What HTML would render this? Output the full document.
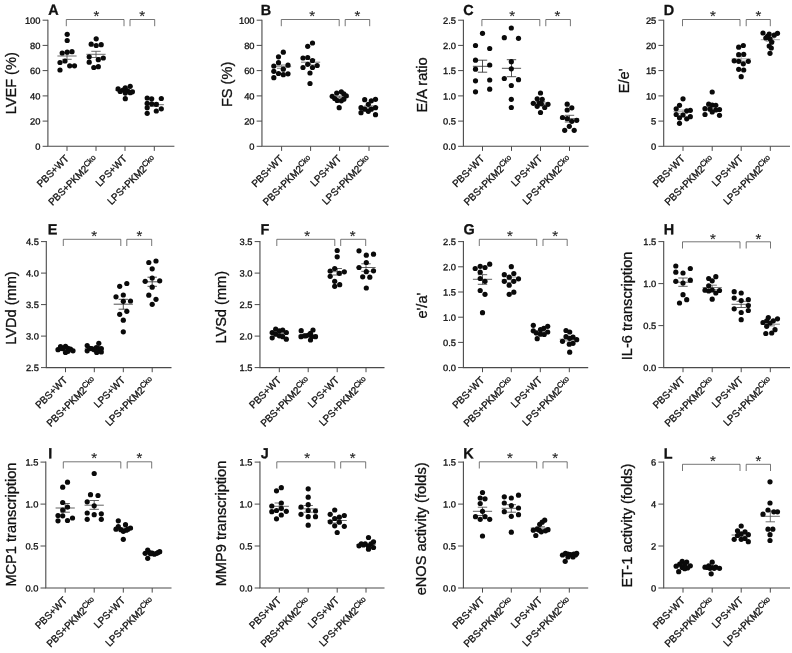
<!DOCTYPE html>
<html><head><meta charset="utf-8"><title>Figure</title>
<style>
html,body{margin:0;padding:0;background:#fff;}
body{width:792px;height:653px;overflow:hidden;font-family:"Liberation Sans",sans-serif;}
svg{display:block;will-change:transform;filter:blur(0.35px);}
text{stroke:#111;stroke-width:0.3px;}
</style></head><body>
<svg width="792" height="653" viewBox="0 0 792 653" font-family="'Liberation Sans', sans-serif">
<rect width="792" height="653" fill="#fff"/>
<g><path d="M47.9 19.7V146.3H174.4" fill="none" stroke="#4a4a4a" stroke-width="1.1"/><path d="M42.6 20.2H47.9M42.6 45.4H47.9M42.6 70.6H47.9M42.6 95.9H47.9M42.6 121.1H47.9M42.6 146.3H47.9M67 146.3V150.9M96 146.3V150.9M125 146.3V150.9M154.3 146.3V150.9" fill="none" stroke="#4a4a4a" stroke-width="1"/><text transform="translate(40.5 23.7) rotate(0.03) scale(1 0.97)" font-size="9.35" text-anchor="end" fill="#111">100</text><text transform="translate(40.5 48.9) rotate(0.03) scale(1 0.97)" font-size="9.35" text-anchor="end" fill="#111">80</text><text transform="translate(40.5 74.1) rotate(0.03) scale(1 0.97)" font-size="9.35" text-anchor="end" fill="#111">60</text><text transform="translate(40.5 99.4) rotate(0.03) scale(1 0.97)" font-size="9.35" text-anchor="end" fill="#111">40</text><text transform="translate(40.5 124.6) rotate(0.03) scale(1 0.97)" font-size="9.35" text-anchor="end" fill="#111">20</text><text transform="translate(40.5 149.8) rotate(0.03) scale(1 0.97)" font-size="9.35" text-anchor="end" fill="#111">0</text><text transform="translate(15.9 83.3) rotate(-90) scale(1.02 1.04)" font-size="14.3" text-anchor="middle" fill="#111">LVEF (%)</text><text transform="translate(48.2 14.85) rotate(0.03) scale(1 1.01)" font-size="14.4" font-weight="bold" fill="#111">A</text><text transform="translate(69.4 159.4) rotate(-45) scale(1 1.04)" font-size="9.7" text-anchor="end" fill="#111">PBS+WT</text><text transform="translate(98.4 160.1) rotate(-45) scale(1 1.04)" font-size="9.7" text-anchor="end" fill="#111">PBS+PKM2<tspan font-size="7.6" dy="-2.9">Cko</tspan></text><text transform="translate(127.4 159.4) rotate(-45) scale(1 1.04)" font-size="9.7" text-anchor="end" fill="#111">LPS+WT</text><text transform="translate(156.7 160.1) rotate(-45) scale(1 1.04)" font-size="9.7" text-anchor="end" fill="#111">LPS+PKM2<tspan font-size="7.6" dy="-2.9">Cko</tspan></text><path d="M66.3 26.2V19.5H124V26.2" fill="none" stroke="#484848" stroke-width="0.75"/><path d="M130 26.2V19.5H154.7V26.2" fill="none" stroke="#484848" stroke-width="0.75"/><text x="96.4" y="21.4" font-size="15" text-anchor="middle" fill="#222" style="stroke:#222;stroke-width:0.12px">*</text><text x="142.1" y="21.4" font-size="15" text-anchor="middle" fill="#222" style="stroke:#222;stroke-width:0.12px">*</text><path d="M57.4 56H76.6M62.3 52.4H71.7M62.3 59.3H71.7M67 52.4V59.3" fill="none" stroke="#555" stroke-width="0.85"/><path d="M86.4 54.3H105.6M91.3 51.3H100.7M91.3 57.5H100.7M96 51.3V57.5" fill="none" stroke="#555" stroke-width="0.85"/><path d="M115.4 90.3H134.6M120.3 89.3H129.7M120.3 91.3H129.7M125 89.3V91.3" fill="none" stroke="#555" stroke-width="0.85"/><path d="M144.7 104.7H163.9M149.6 103H159M149.6 106.4H159M154.3 103V106.4" fill="none" stroke="#555" stroke-width="0.85"/><g fill="#0a0a0a"><circle cx="67.2" cy="34.3" r="2.6"/><circle cx="67.2" cy="40.5" r="2.6"/><circle cx="62.2" cy="53" r="2.6"/><circle cx="67.2" cy="52.2" r="2.6"/><circle cx="72" cy="51.7" r="2.6"/><circle cx="60" cy="62.5" r="2.6"/><circle cx="65" cy="61" r="2.6"/><circle cx="69.7" cy="65.8" r="2.6"/><circle cx="74.5" cy="65.8" r="2.6"/><circle cx="60" cy="70" r="2.6"/></g><g fill="#0a0a0a"><circle cx="96.2" cy="38.8" r="2.6"/><circle cx="91.2" cy="44.2" r="2.6"/><circle cx="96.2" cy="45.5" r="2.6"/><circle cx="101.2" cy="44.7" r="2.6"/><circle cx="89.2" cy="56.8" r="2.6"/><circle cx="103.3" cy="58" r="2.6"/><circle cx="98.3" cy="59.7" r="2.6"/><circle cx="89.2" cy="62.2" r="2.6"/><circle cx="93.8" cy="67.5" r="2.6"/><circle cx="98.3" cy="66.7" r="2.6"/></g><g fill="#0a0a0a"><circle cx="118.1" cy="88.9" r="2.6"/><circle cx="120.2" cy="91.4" r="2.6"/><circle cx="125.3" cy="87.8" r="2.6"/><circle cx="130.2" cy="86.3" r="2.6"/><circle cx="123.1" cy="90" r="2.6"/><circle cx="127.5" cy="90.9" r="2.6"/><circle cx="132.4" cy="91.8" r="2.6"/><circle cx="125.3" cy="93.1" r="2.6"/><circle cx="125.3" cy="98.7" r="2.6"/><circle cx="130.2" cy="92.7" r="2.6"/></g><g fill="#0a0a0a"><circle cx="147.2" cy="98" r="2.6"/><circle cx="151.7" cy="98.8" r="2.6"/><circle cx="161.3" cy="98.5" r="2.6"/><circle cx="147.2" cy="103.3" r="2.6"/><circle cx="151.7" cy="103.8" r="2.6"/><circle cx="156.3" cy="104.3" r="2.6"/><circle cx="147.2" cy="107.7" r="2.6"/><circle cx="161.3" cy="108.8" r="2.6"/><circle cx="156.3" cy="111" r="2.6"/><circle cx="147.2" cy="113.3" r="2.6"/></g></g>
<g><path d="M261.95 19.7V146.3H388.8" fill="none" stroke="#4a4a4a" stroke-width="1.1"/><path d="M256.65 20.2H261.95M256.65 45.4H261.95M256.65 70.6H261.95M256.65 95.9H261.95M256.65 121.1H261.95M256.65 146.3H261.95M281.6 146.3V150.9M310.6 146.3V150.9M339.6 146.3V150.9M369 146.3V150.9" fill="none" stroke="#4a4a4a" stroke-width="1"/><text transform="translate(254.55 23.7) rotate(0.03) scale(1 0.97)" font-size="9.35" text-anchor="end" fill="#111">100</text><text transform="translate(254.55 48.9) rotate(0.03) scale(1 0.97)" font-size="9.35" text-anchor="end" fill="#111">80</text><text transform="translate(254.55 74.1) rotate(0.03) scale(1 0.97)" font-size="9.35" text-anchor="end" fill="#111">60</text><text transform="translate(254.55 99.4) rotate(0.03) scale(1 0.97)" font-size="9.35" text-anchor="end" fill="#111">40</text><text transform="translate(254.55 124.6) rotate(0.03) scale(1 0.97)" font-size="9.35" text-anchor="end" fill="#111">20</text><text transform="translate(254.55 149.8) rotate(0.03) scale(1 0.97)" font-size="9.35" text-anchor="end" fill="#111">0</text><text transform="translate(231.6 84.4) rotate(-90) scale(1.02 1.04)" font-size="14.3" text-anchor="middle" fill="#111">FS (%)</text><text transform="translate(260.7 15.05) rotate(0.03) scale(1 1.01)" font-size="14.4" font-weight="bold" fill="#111">B</text><text transform="translate(284 159.4) rotate(-45) scale(1 1.04)" font-size="9.7" text-anchor="end" fill="#111">PBS+WT</text><text transform="translate(313 160.1) rotate(-45) scale(1 1.04)" font-size="9.7" text-anchor="end" fill="#111">PBS+PKM2<tspan font-size="7.6" dy="-2.9">Cko</tspan></text><text transform="translate(342 159.4) rotate(-45) scale(1 1.04)" font-size="9.7" text-anchor="end" fill="#111">LPS+WT</text><text transform="translate(371.4 160.1) rotate(-45) scale(1 1.04)" font-size="9.7" text-anchor="end" fill="#111">LPS+PKM2<tspan font-size="7.6" dy="-2.9">Cko</tspan></text><path d="M281.3 26.2V19.5H339.2V26.2" fill="none" stroke="#484848" stroke-width="0.75"/><path d="M345.2 26.2V19.5H369.7V26.2" fill="none" stroke="#484848" stroke-width="0.75"/><text x="312.2" y="21.4" font-size="15" text-anchor="middle" fill="#222" style="stroke:#222;stroke-width:0.12px">*</text><text x="357.5" y="21.4" font-size="15" text-anchor="middle" fill="#222" style="stroke:#222;stroke-width:0.12px">*</text><path d="M272 66.7H291.2M276.9 65H286.3M276.9 68.4H286.3M281.6 65V68.4" fill="none" stroke="#777" stroke-width="0.85"/><path d="M301 62.2H320.2M305.9 59.4H315.3M305.9 65H315.3M310.6 59.4V65" fill="none" stroke="#666" stroke-width="0.85"/><path d="M330 97H349.2M334.9 96H344.3M334.9 98H344.3M339.6 96V98" fill="none" stroke="#666" stroke-width="0.85"/><path d="M359.4 107.2H378.6M364.3 105.8H373.7M364.3 108.6H373.7M369 105.8V108.6" fill="none" stroke="#777" stroke-width="0.85"/><g fill="#0a0a0a"><circle cx="283.3" cy="52.2" r="2.6"/><circle cx="278.5" cy="56.8" r="2.6"/><circle cx="278.5" cy="62.7" r="2.6"/><circle cx="273.8" cy="66" r="2.6"/><circle cx="288" cy="65.2" r="2.6"/><circle cx="283.3" cy="69.2" r="2.6"/><circle cx="273.8" cy="71.3" r="2.6"/><circle cx="278.5" cy="73.5" r="2.6"/><circle cx="283.3" cy="74.7" r="2.6"/><circle cx="288" cy="73.8" r="2.6"/><circle cx="273.8" cy="77.7" r="2.6"/></g><g fill="#0a0a0a"><circle cx="312.5" cy="43" r="2.6"/><circle cx="307.7" cy="46.3" r="2.6"/><circle cx="303" cy="58" r="2.6"/><circle cx="307.7" cy="57.5" r="2.6"/><circle cx="312.5" cy="60.5" r="2.6"/><circle cx="307.7" cy="64.3" r="2.6"/><circle cx="317.2" cy="65.5" r="2.6"/><circle cx="303" cy="67.5" r="2.6"/><circle cx="312.5" cy="67.5" r="2.6"/><circle cx="310" cy="73" r="2.6"/><circle cx="310" cy="83.5" r="2.6"/></g><g fill="#0a0a0a"><circle cx="336.7" cy="93" r="2.6"/><circle cx="341.3" cy="91.8" r="2.6"/><circle cx="332.2" cy="96.3" r="2.6"/><circle cx="343.8" cy="93.8" r="2.6"/><circle cx="346.3" cy="95.8" r="2.6"/><circle cx="334.7" cy="98.5" r="2.6"/><circle cx="337.2" cy="100.5" r="2.6"/><circle cx="341.3" cy="100.8" r="2.6"/><circle cx="343.8" cy="99.2" r="2.6"/><circle cx="339.2" cy="107.7" r="2.6"/></g><g fill="#0a0a0a"><circle cx="364.7" cy="99.7" r="2.6"/><circle cx="375.5" cy="99.3" r="2.6"/><circle cx="371.3" cy="100.8" r="2.6"/><circle cx="368.3" cy="104.3" r="2.6"/><circle cx="361" cy="107.7" r="2.6"/><circle cx="375.5" cy="107.7" r="2.6"/><circle cx="364.7" cy="109.2" r="2.6"/><circle cx="371.3" cy="109.2" r="2.6"/><circle cx="368.3" cy="111.3" r="2.6"/><circle cx="361" cy="112.7" r="2.6"/><circle cx="375.5" cy="114.7" r="2.6"/></g></g>
<g><path d="M463.4 19.7V146.3H588.6" fill="none" stroke="#4a4a4a" stroke-width="1.1"/><path d="M458.1 20.2H463.4M458.1 45.4H463.4M458.1 70.6H463.4M458.1 95.9H463.4M458.1 121.1H463.4M458.1 146.3H463.4M482.5 146.3V150.9M511.5 146.3V150.9M540.5 146.3V150.9M569.5 146.3V150.9" fill="none" stroke="#4a4a4a" stroke-width="1"/><text transform="translate(456 23.7) rotate(0.03) scale(1 0.97)" font-size="9.35" text-anchor="end" fill="#111">2.5</text><text transform="translate(456 48.9) rotate(0.03) scale(1 0.97)" font-size="9.35" text-anchor="end" fill="#111">2.0</text><text transform="translate(456 74.1) rotate(0.03) scale(1 0.97)" font-size="9.35" text-anchor="end" fill="#111">1.5</text><text transform="translate(456 99.4) rotate(0.03) scale(1 0.97)" font-size="9.35" text-anchor="end" fill="#111">1.0</text><text transform="translate(456 124.6) rotate(0.03) scale(1 0.97)" font-size="9.35" text-anchor="end" fill="#111">0.5</text><text transform="translate(456 149.8) rotate(0.03) scale(1 0.97)" font-size="9.35" text-anchor="end" fill="#111">0.0</text><text transform="translate(427.2 84.9) rotate(-90) scale(1.02 1.04)" font-size="14.3" text-anchor="middle" fill="#111">E/A ratio</text><text transform="translate(463.2 15.05) rotate(0.03) scale(1 1.01)" font-size="14.4" font-weight="bold" fill="#111">C</text><text transform="translate(484.9 159.4) rotate(-45) scale(1 1.04)" font-size="9.7" text-anchor="end" fill="#111">PBS+WT</text><text transform="translate(513.9 160.1) rotate(-45) scale(1 1.04)" font-size="9.7" text-anchor="end" fill="#111">PBS+PKM2<tspan font-size="7.6" dy="-2.9">Cko</tspan></text><text transform="translate(542.9 159.4) rotate(-45) scale(1 1.04)" font-size="9.7" text-anchor="end" fill="#111">LPS+WT</text><text transform="translate(571.9 160.1) rotate(-45) scale(1 1.04)" font-size="9.7" text-anchor="end" fill="#111">LPS+PKM2<tspan font-size="7.6" dy="-2.9">Cko</tspan></text><path d="M481.9 26.2V19.5H539.8V26.2" fill="none" stroke="#484848" stroke-width="0.75"/><path d="M545.8 26.2V19.5H570.4V26.2" fill="none" stroke="#484848" stroke-width="0.75"/><text x="512.2" y="21.4" font-size="15" text-anchor="middle" fill="#222" style="stroke:#222;stroke-width:0.12px">*</text><text x="557.5" y="21.4" font-size="15" text-anchor="middle" fill="#222" style="stroke:#222;stroke-width:0.12px">*</text><path d="M472.9 66.3H492.1M477.8 60.2H487.2M477.8 72.2H487.2M482.5 60.2V72.2" fill="none" stroke="#333" stroke-width="0.85"/><path d="M501.9 68.3H521.1M506.8 59.7H516.2M506.8 76.7H516.2M511.5 59.7V76.7" fill="none" stroke="#333" stroke-width="0.85"/><path d="M530.9 103H550.1M535.8 101.5H545.2M535.8 104.5H545.2M540.5 101.5V104.5" fill="none" stroke="#666" stroke-width="0.85"/><path d="M559.9 118.7H579.1M564.8 115.3H574.2M564.8 122H574.2M569.5 115.3V122" fill="none" stroke="#444" stroke-width="0.85"/><g fill="#0a0a0a"><circle cx="482.5" cy="33.3" r="2.6"/><circle cx="475.5" cy="45.5" r="2.6"/><circle cx="489.7" cy="48.5" r="2.6"/><circle cx="475.5" cy="60.2" r="2.6"/><circle cx="489.7" cy="65" r="2.6"/><circle cx="475.5" cy="69.2" r="2.6"/><circle cx="475.5" cy="80.8" r="2.6"/><circle cx="489.7" cy="80" r="2.6"/><circle cx="489.7" cy="89.2" r="2.6"/><circle cx="475.5" cy="91.8" r="2.6"/></g><g fill="#0a0a0a"><circle cx="511.3" cy="28" r="2.6"/><circle cx="504.3" cy="37.7" r="2.6"/><circle cx="518.5" cy="38.3" r="2.6"/><circle cx="511.3" cy="61.7" r="2.6"/><circle cx="511.3" cy="68.8" r="2.6"/><circle cx="504.3" cy="78.5" r="2.6"/><circle cx="518.5" cy="79.7" r="2.6"/><circle cx="511.3" cy="85.5" r="2.6"/><circle cx="511.3" cy="99.3" r="2.6"/><circle cx="511.3" cy="107.5" r="2.6"/></g><g fill="#0a0a0a"><circle cx="540.5" cy="93" r="2.6"/><circle cx="537.2" cy="98.8" r="2.6"/><circle cx="542.2" cy="99.3" r="2.6"/><circle cx="533.3" cy="103.3" r="2.6"/><circle cx="539.2" cy="103" r="2.6"/><circle cx="548" cy="104.3" r="2.6"/><circle cx="544.7" cy="107.5" r="2.6"/><circle cx="537.2" cy="106.3" r="2.6"/><circle cx="540.5" cy="112.5" r="2.6"/><circle cx="541.3" cy="103.8" r="2.6"/></g><g fill="#0a0a0a"><circle cx="567.2" cy="104.2" r="2.6"/><circle cx="571.8" cy="107.8" r="2.6"/><circle cx="567.2" cy="110" r="2.6"/><circle cx="562.5" cy="117.5" r="2.6"/><circle cx="567.2" cy="118.7" r="2.6"/><circle cx="576.7" cy="120.3" r="2.6"/><circle cx="571.8" cy="121.3" r="2.6"/><circle cx="569.3" cy="126.3" r="2.6"/><circle cx="564.7" cy="130.3" r="2.6"/><circle cx="574.2" cy="130.3" r="2.6"/></g></g>
<g><path d="M663.7 19.7V146.3H790" fill="none" stroke="#4a4a4a" stroke-width="1.1"/><path d="M658.4 20.2H663.7M658.4 45.4H663.7M658.4 70.6H663.7M658.4 95.9H663.7M658.4 121.1H663.7M658.4 146.3H663.7M683 146.3V150.9M712.2 146.3V150.9M741.2 146.3V150.9M770.3 146.3V150.9" fill="none" stroke="#4a4a4a" stroke-width="1"/><text transform="translate(656.3 23.7) rotate(0.03) scale(1 0.97)" font-size="9.35" text-anchor="end" fill="#111">25</text><text transform="translate(656.3 48.9) rotate(0.03) scale(1 0.97)" font-size="9.35" text-anchor="end" fill="#111">20</text><text transform="translate(656.3 74.1) rotate(0.03) scale(1 0.97)" font-size="9.35" text-anchor="end" fill="#111">15</text><text transform="translate(656.3 99.4) rotate(0.03) scale(1 0.97)" font-size="9.35" text-anchor="end" fill="#111">10</text><text transform="translate(656.3 124.6) rotate(0.03) scale(1 0.97)" font-size="9.35" text-anchor="end" fill="#111">5</text><text transform="translate(656.3 149.8) rotate(0.03) scale(1 0.97)" font-size="9.35" text-anchor="end" fill="#111">0</text><text transform="translate(629.2 80.9) rotate(-90) scale(1.02 1.04)" font-size="14.3" text-anchor="middle" fill="#111">E/e'</text><text transform="translate(663.7 15.05) rotate(0.03) scale(1 1.01)" font-size="14.4" font-weight="bold" fill="#111">D</text><text transform="translate(685.4 159.4) rotate(-45) scale(1 1.04)" font-size="9.7" text-anchor="end" fill="#111">PBS+WT</text><text transform="translate(714.6 160.1) rotate(-45) scale(1 1.04)" font-size="9.7" text-anchor="end" fill="#111">PBS+PKM2<tspan font-size="7.6" dy="-2.9">Cko</tspan></text><text transform="translate(743.6 159.4) rotate(-45) scale(1 1.04)" font-size="9.7" text-anchor="end" fill="#111">LPS+WT</text><text transform="translate(772.7 160.1) rotate(-45) scale(1 1.04)" font-size="9.7" text-anchor="end" fill="#111">LPS+PKM2<tspan font-size="7.6" dy="-2.9">Cko</tspan></text><path d="M682.5 26.2V19.5H740V26.2" fill="none" stroke="#484848" stroke-width="0.75"/><path d="M746.2 26.2V19.5H770.3V26.2" fill="none" stroke="#484848" stroke-width="0.75"/><text x="712.8" y="21.4" font-size="15" text-anchor="middle" fill="#222" style="stroke:#222;stroke-width:0.12px">*</text><text x="758.3" y="21.4" font-size="15" text-anchor="middle" fill="#222" style="stroke:#222;stroke-width:0.12px">*</text><path d="M673.4 111.7H692.6M678.3 110H687.7M678.3 113.4H687.7M683 110V113.4" fill="none" stroke="#999" stroke-width="0.85"/><path d="M702.6 108.3H721.8M707.5 106.8H716.9M707.5 109.8H716.9M712.2 106.8V109.8" fill="none" stroke="#999" stroke-width="0.85"/><path d="M731.6 58.8H750.8M736.5 56.5H745.9M736.5 61.1H745.9M741.2 56.5V61.1" fill="none" stroke="#999" stroke-width="0.85"/><path d="M760.7 39.7H779.9M765.6 38H775M765.6 41.4H775M770.3 38V41.4" fill="none" stroke="#999" stroke-width="0.85"/><g fill="#0a0a0a"><circle cx="683" cy="98.8" r="2.6"/><circle cx="679.5" cy="105.3" r="2.6"/><circle cx="676.2" cy="108.8" r="2.6"/><circle cx="686.7" cy="110.8" r="2.6"/><circle cx="690.3" cy="110.3" r="2.6"/><circle cx="676.2" cy="114.5" r="2.6"/><circle cx="683" cy="115" r="2.6"/><circle cx="690.3" cy="116.7" r="2.6"/><circle cx="679.5" cy="117.8" r="2.6"/><circle cx="686.7" cy="118.8" r="2.6"/><circle cx="679.5" cy="123.3" r="2.6"/></g><g fill="#0a0a0a"><circle cx="712.2" cy="92" r="2.6"/><circle cx="708.7" cy="104.2" r="2.6"/><circle cx="712.2" cy="105" r="2.6"/><circle cx="715.8" cy="105.3" r="2.6"/><circle cx="705" cy="108.7" r="2.6"/><circle cx="710" cy="109.2" r="2.6"/><circle cx="719.5" cy="109.5" r="2.6"/><circle cx="715.8" cy="110" r="2.6"/><circle cx="712.2" cy="112" r="2.6"/><circle cx="705" cy="114.5" r="2.6"/><circle cx="719.5" cy="115.3" r="2.6"/></g><g fill="#0a0a0a"><circle cx="738.7" cy="47.2" r="2.6"/><circle cx="743.3" cy="45.5" r="2.6"/><circle cx="738.7" cy="54.7" r="2.6"/><circle cx="743.7" cy="54.3" r="2.6"/><circle cx="734.2" cy="60.8" r="2.6"/><circle cx="738.7" cy="61.3" r="2.6"/><circle cx="748.3" cy="61.3" r="2.6"/><circle cx="743.3" cy="63.8" r="2.6"/><circle cx="738.7" cy="69.3" r="2.6"/><circle cx="743.7" cy="70" r="2.6"/><circle cx="741.2" cy="76.7" r="2.6"/></g><g fill="#0a0a0a"><circle cx="763" cy="33" r="2.6"/><circle cx="769.2" cy="34.2" r="2.6"/><circle cx="777.5" cy="33.3" r="2.6"/><circle cx="774.2" cy="35.2" r="2.6"/><circle cx="765.8" cy="38" r="2.6"/><circle cx="770" cy="38.8" r="2.6"/><circle cx="771.7" cy="42.2" r="2.6"/><circle cx="769.2" cy="46" r="2.6"/><circle cx="771.3" cy="48" r="2.6"/><circle cx="770" cy="53.3" r="2.6"/><circle cx="767.5" cy="36.3" r="2.6"/></g></g>
<g><path d="M46.3 241.1V367.6H171.5" fill="none" stroke="#4a4a4a" stroke-width="1.1"/><path d="M41 241.6H46.3M41 273.1H46.3M41 304.6H46.3M41 336.1H46.3M41 367.6H46.3M65.5 367.6V372.2M94.3 367.6V372.2M123.3 367.6V372.2M152.2 367.6V372.2" fill="none" stroke="#4a4a4a" stroke-width="1"/><text transform="translate(38.9 245.1) rotate(0.03) scale(1 0.97)" font-size="9.35" text-anchor="end" fill="#111">4.5</text><text transform="translate(38.9 276.6) rotate(0.03) scale(1 0.97)" font-size="9.35" text-anchor="end" fill="#111">4.0</text><text transform="translate(38.9 308.1) rotate(0.03) scale(1 0.97)" font-size="9.35" text-anchor="end" fill="#111">3.5</text><text transform="translate(38.9 339.6) rotate(0.03) scale(1 0.97)" font-size="9.35" text-anchor="end" fill="#111">3.0</text><text transform="translate(38.9 371.1) rotate(0.03) scale(1 0.97)" font-size="9.35" text-anchor="end" fill="#111">2.5</text><text transform="translate(15.5 308) rotate(-90) scale(1.02 1.04)" font-size="14.3" text-anchor="middle" fill="#111">LVDd (mm)</text><text transform="translate(47.7 234.35) rotate(0.03) scale(1 1.01)" font-size="14.4" font-weight="bold" fill="#111">E</text><text transform="translate(67.9 380.7) rotate(-45) scale(1 1.04)" font-size="9.7" text-anchor="end" fill="#111">PBS+WT</text><text transform="translate(96.7 381.4) rotate(-45) scale(1 1.04)" font-size="9.7" text-anchor="end" fill="#111">PBS+PKM2<tspan font-size="7.6" dy="-2.9">Cko</tspan></text><text transform="translate(125.7 380.7) rotate(-45) scale(1 1.04)" font-size="9.7" text-anchor="end" fill="#111">LPS+WT</text><text transform="translate(154.6 381.4) rotate(-45) scale(1 1.04)" font-size="9.7" text-anchor="end" fill="#111">LPS+PKM2<tspan font-size="7.6" dy="-2.9">Cko</tspan></text><path d="M63.3 246V239.3H120.8V246" fill="none" stroke="#484848" stroke-width="0.75"/><path d="M126.8 246V239.3H151.7V246" fill="none" stroke="#484848" stroke-width="0.75"/><text x="94.2" y="241.4" font-size="15" text-anchor="middle" fill="#222" style="stroke:#222;stroke-width:0.12px">*</text><text x="139.3" y="241.4" font-size="15" text-anchor="middle" fill="#222" style="stroke:#222;stroke-width:0.12px">*</text><path d="M55.9 349.3H75.1M60.8 348.8H70.2M60.8 349.8H70.2M65.5 348.8V349.8" fill="none" stroke="#666" stroke-width="0.85"/><path d="M84.7 348.7H103.9M89.6 348H99M89.6 349.4H99M94.3 348V349.4" fill="none" stroke="#666" stroke-width="0.85"/><path d="M113.7 304.2H132.9M118.6 299.3H128M118.6 309.2H128M123.3 299.3V309.2" fill="none" stroke="#333" stroke-width="0.85"/><path d="M142.6 281.8H161.8M147.5 277.2H156.9M147.5 286.3H156.9M152.2 277.2V286.3" fill="none" stroke="#333" stroke-width="0.85"/><g fill="#0a0a0a"><circle cx="60.5" cy="346.7" r="2.6"/><circle cx="65.5" cy="346.3" r="2.6"/><circle cx="58" cy="349.7" r="2.6"/><circle cx="63" cy="348.7" r="2.6"/><circle cx="68" cy="348.3" r="2.6"/><circle cx="70.5" cy="349.2" r="2.6"/><circle cx="73" cy="350.8" r="2.6"/><circle cx="65.5" cy="352.5" r="2.6"/><circle cx="68" cy="351.3" r="2.6"/><circle cx="60.5" cy="348.3" r="2.6"/></g><g fill="#0a0a0a"><circle cx="98.8" cy="343.3" r="2.6"/><circle cx="87.2" cy="345.5" r="2.6"/><circle cx="96.3" cy="347.5" r="2.6"/><circle cx="98.6" cy="348.6" r="2.6"/><circle cx="91.8" cy="348.7" r="2.6"/><circle cx="101.3" cy="348.7" r="2.6"/><circle cx="87.2" cy="350.8" r="2.6"/><circle cx="94.2" cy="349.7" r="2.6"/><circle cx="101.3" cy="352" r="2.6"/><circle cx="96.7" cy="352.5" r="2.6"/><circle cx="89.7" cy="348.3" r="2.6"/></g><g fill="#0a0a0a"><circle cx="126.8" cy="283.5" r="2.6"/><circle cx="119.7" cy="286.3" r="2.6"/><circle cx="123.3" cy="295" r="2.6"/><circle cx="116" cy="296.8" r="2.6"/><circle cx="123.3" cy="301.3" r="2.6"/><circle cx="130.5" cy="301" r="2.6"/><circle cx="126.8" cy="311.3" r="2.6"/><circle cx="119.7" cy="314.3" r="2.6"/><circle cx="123.3" cy="320.2" r="2.6"/><circle cx="123.3" cy="331.8" r="2.6"/></g><g fill="#0a0a0a"><circle cx="148.8" cy="262.5" r="2.6"/><circle cx="156" cy="261" r="2.6"/><circle cx="152.2" cy="268.8" r="2.6"/><circle cx="152.2" cy="278" r="2.6"/><circle cx="145.2" cy="281.3" r="2.6"/><circle cx="159.7" cy="280.8" r="2.6"/><circle cx="152.2" cy="287.2" r="2.6"/><circle cx="148.8" cy="295.2" r="2.6"/><circle cx="156" cy="299.3" r="2.6"/><circle cx="152.2" cy="304.3" r="2.6"/></g></g>
<g><path d="M259.95 241.1V367.6H384.5" fill="none" stroke="#4a4a4a" stroke-width="1.1"/><path d="M254.65 241.6H259.95M254.65 273.1H259.95M254.65 304.6H259.95M254.65 336.1H259.95M254.65 367.6H259.95M279.3 367.6V372.2M308.2 367.6V372.2M337.2 367.6V372.2M366 367.6V372.2" fill="none" stroke="#4a4a4a" stroke-width="1"/><text transform="translate(252.55 245.1) rotate(0.03) scale(1 0.97)" font-size="9.35" text-anchor="end" fill="#111">3.5</text><text transform="translate(252.55 276.6) rotate(0.03) scale(1 0.97)" font-size="9.35" text-anchor="end" fill="#111">3.0</text><text transform="translate(252.55 308.1) rotate(0.03) scale(1 0.97)" font-size="9.35" text-anchor="end" fill="#111">2.5</text><text transform="translate(252.55 339.6) rotate(0.03) scale(1 0.97)" font-size="9.35" text-anchor="end" fill="#111">2.0</text><text transform="translate(252.55 371.1) rotate(0.03) scale(1 0.97)" font-size="9.35" text-anchor="end" fill="#111">1.5</text><text transform="translate(226.1 307.3) rotate(-90) scale(1.02 1.04)" font-size="14.3" text-anchor="middle" fill="#111">LVSd (mm)</text><text transform="translate(260.6 234.35) rotate(0.03) scale(1 1.01)" font-size="14.4" font-weight="bold" fill="#111">F</text><text transform="translate(281.7 380.7) rotate(-45) scale(1 1.04)" font-size="9.7" text-anchor="end" fill="#111">PBS+WT</text><text transform="translate(310.6 381.4) rotate(-45) scale(1 1.04)" font-size="9.7" text-anchor="end" fill="#111">PBS+PKM2<tspan font-size="7.6" dy="-2.9">Cko</tspan></text><text transform="translate(339.6 380.7) rotate(-45) scale(1 1.04)" font-size="9.7" text-anchor="end" fill="#111">LPS+WT</text><text transform="translate(368.4 381.4) rotate(-45) scale(1 1.04)" font-size="9.7" text-anchor="end" fill="#111">LPS+PKM2<tspan font-size="7.6" dy="-2.9">Cko</tspan></text><path d="M276.8 246V239.3H334.8V246" fill="none" stroke="#484848" stroke-width="0.75"/><path d="M340.7 246V239.3H365.7V246" fill="none" stroke="#484848" stroke-width="0.75"/><text x="307.2" y="241.4" font-size="15" text-anchor="middle" fill="#222" style="stroke:#222;stroke-width:0.12px">*</text><text x="352.7" y="241.4" font-size="15" text-anchor="middle" fill="#222" style="stroke:#222;stroke-width:0.12px">*</text><path d="M269.7 333.7H288.9M274.6 332.9H284M274.6 334.5H284M279.3 332.9V334.5" fill="none" stroke="#666" stroke-width="0.85"/><path d="M298.6 335.2H317.8M303.5 334.4H312.9M303.5 336H312.9M308.2 334.4V336" fill="none" stroke="#666" stroke-width="0.85"/><path d="M327.6 271.7H346.8M332.5 268.5H341.9M332.5 275H341.9M337.2 268.5V275" fill="none" stroke="#444" stroke-width="0.85"/><path d="M356.4 267.5H375.6M361.3 263.8H370.7M361.3 271.3H370.7M366 263.8V271.3" fill="none" stroke="#444" stroke-width="0.85"/><g fill="#0a0a0a"><circle cx="275.7" cy="329.2" r="2.6"/><circle cx="272.2" cy="332.5" r="2.6"/><circle cx="279.3" cy="330.8" r="2.6"/><circle cx="282.7" cy="330" r="2.6"/><circle cx="286.3" cy="332.5" r="2.6"/><circle cx="275.7" cy="334.2" r="2.6"/><circle cx="279.3" cy="335.8" r="2.6"/><circle cx="272.2" cy="337.8" r="2.6"/><circle cx="282.7" cy="336.7" r="2.6"/><circle cx="286.3" cy="339.2" r="2.6"/></g><g fill="#0a0a0a"><circle cx="301.2" cy="330.7" r="2.6"/><circle cx="313" cy="330" r="2.6"/><circle cx="310.5" cy="333.3" r="2.6"/><circle cx="306" cy="335.8" r="2.6"/><circle cx="301" cy="336.7" r="2.6"/><circle cx="315.5" cy="336.7" r="2.6"/><circle cx="311.8" cy="336.7" r="2.6"/><circle cx="310.5" cy="340" r="2.6"/><circle cx="308.5" cy="335" r="2.6"/><circle cx="304.3" cy="335.8" r="2.6"/></g><g fill="#0a0a0a"><circle cx="337.2" cy="250.5" r="2.6"/><circle cx="337.2" cy="256.8" r="2.6"/><circle cx="334.7" cy="268.5" r="2.6"/><circle cx="330.2" cy="271" r="2.6"/><circle cx="344.3" cy="271.8" r="2.6"/><circle cx="339.3" cy="273.3" r="2.6"/><circle cx="330.2" cy="276.3" r="2.6"/><circle cx="334.7" cy="281.3" r="2.6"/><circle cx="339.7" cy="284.7" r="2.6"/><circle cx="334.7" cy="286.3" r="2.6"/></g><g fill="#0a0a0a"><circle cx="359" cy="250.8" r="2.6"/><circle cx="373.5" cy="254.2" r="2.6"/><circle cx="366.3" cy="255.2" r="2.6"/><circle cx="366.3" cy="262.5" r="2.6"/><circle cx="359" cy="267.5" r="2.6"/><circle cx="373.5" cy="270.8" r="2.6"/><circle cx="366.3" cy="271.7" r="2.6"/><circle cx="362.7" cy="276.8" r="2.6"/><circle cx="369.8" cy="277.2" r="2.6"/><circle cx="366.3" cy="288" r="2.6"/></g></g>
<g><path d="M463.4 241.1V367.6H588.2" fill="none" stroke="#4a4a4a" stroke-width="1.1"/><path d="M458.1 241.6H463.4M458.1 266.8H463.4M458.1 292H463.4M458.1 317.2H463.4M458.1 342.4H463.4M458.1 367.6H463.4M482.5 367.6V372.2M511.3 367.6V372.2M540.3 367.6V372.2M569.3 367.6V372.2" fill="none" stroke="#4a4a4a" stroke-width="1"/><text transform="translate(456 245.1) rotate(0.03) scale(1 0.97)" font-size="9.35" text-anchor="end" fill="#111">2.5</text><text transform="translate(456 270.3) rotate(0.03) scale(1 0.97)" font-size="9.35" text-anchor="end" fill="#111">2.0</text><text transform="translate(456 295.5) rotate(0.03) scale(1 0.97)" font-size="9.35" text-anchor="end" fill="#111">1.5</text><text transform="translate(456 320.7) rotate(0.03) scale(1 0.97)" font-size="9.35" text-anchor="end" fill="#111">1.0</text><text transform="translate(456 345.9) rotate(0.03) scale(1 0.97)" font-size="9.35" text-anchor="end" fill="#111">0.5</text><text transform="translate(456 371.1) rotate(0.03) scale(1 0.97)" font-size="9.35" text-anchor="end" fill="#111">0.0</text><text transform="translate(426.9 305.6) rotate(-90) scale(1.02 1.04)" font-size="14.3" text-anchor="middle" fill="#111">e'/a'</text><text transform="translate(463.5 234.35) rotate(0.03) scale(1 1.01)" font-size="14.4" font-weight="bold" fill="#111">G</text><text transform="translate(484.9 380.7) rotate(-45) scale(1 1.04)" font-size="9.7" text-anchor="end" fill="#111">PBS+WT</text><text transform="translate(513.7 381.4) rotate(-45) scale(1 1.04)" font-size="9.7" text-anchor="end" fill="#111">PBS+PKM2<tspan font-size="7.6" dy="-2.9">Cko</tspan></text><text transform="translate(542.7 380.7) rotate(-45) scale(1 1.04)" font-size="9.7" text-anchor="end" fill="#111">LPS+WT</text><text transform="translate(571.7 381.4) rotate(-45) scale(1 1.04)" font-size="9.7" text-anchor="end" fill="#111">LPS+PKM2<tspan font-size="7.6" dy="-2.9">Cko</tspan></text><path d="M479.3 246V239.3H536.7V246" fill="none" stroke="#484848" stroke-width="0.75"/><path d="M543 246V239.3H567.2V246" fill="none" stroke="#484848" stroke-width="0.75"/><text x="510" y="241.4" font-size="15" text-anchor="middle" fill="#222" style="stroke:#222;stroke-width:0.12px">*</text><text x="555.2" y="241.4" font-size="15" text-anchor="middle" fill="#222" style="stroke:#222;stroke-width:0.12px">*</text><path d="M472.9 279.3H492.1M477.8 274.7H487.2M477.8 284.3H487.2M482.5 274.7V284.3" fill="none" stroke="#444" stroke-width="0.85"/><path d="M501.7 279.7H520.9M506.6 277H516M506.6 282.4H516M511.3 277V282.4" fill="none" stroke="#777" stroke-width="0.85"/><path d="M530.7 331.5H549.9M535.6 330.5H545M535.6 332.5H545M540.3 330.5V332.5" fill="none" stroke="#777" stroke-width="0.85"/><path d="M559.7 339.2H578.9M564.6 337.5H574M564.6 340.9H574M569.3 337.5V340.9" fill="none" stroke="#777" stroke-width="0.85"/><g fill="#0a0a0a"><circle cx="489.7" cy="264.2" r="2.6"/><circle cx="480.2" cy="266.3" r="2.6"/><circle cx="485" cy="267.5" r="2.6"/><circle cx="475.2" cy="268.5" r="2.6"/><circle cx="480.2" cy="272.2" r="2.6"/><circle cx="480.2" cy="278.5" r="2.6"/><circle cx="485" cy="281.3" r="2.6"/><circle cx="480.2" cy="290.5" r="2.6"/><circle cx="485" cy="294.3" r="2.6"/><circle cx="482.5" cy="312.7" r="2.6"/></g><g fill="#0a0a0a"><circle cx="511.3" cy="266.7" r="2.6"/><circle cx="513.8" cy="273.5" r="2.6"/><circle cx="504.3" cy="274.7" r="2.6"/><circle cx="509.2" cy="277.2" r="2.6"/><circle cx="518.5" cy="278.8" r="2.6"/><circle cx="504.3" cy="281.3" r="2.6"/><circle cx="513.8" cy="281.3" r="2.6"/><circle cx="509.2" cy="285.2" r="2.6"/><circle cx="513.8" cy="292.2" r="2.6"/><circle cx="509.2" cy="294.3" r="2.6"/></g><g fill="#0a0a0a"><circle cx="533.3" cy="325.3" r="2.6"/><circle cx="547.7" cy="326.3" r="2.6"/><circle cx="543.8" cy="328.3" r="2.6"/><circle cx="540.5" cy="329.5" r="2.6"/><circle cx="533.3" cy="330.8" r="2.6"/><circle cx="547.7" cy="332" r="2.6"/><circle cx="536.3" cy="333" r="2.6"/><circle cx="540.5" cy="334.2" r="2.6"/><circle cx="544.2" cy="334.5" r="2.6"/><circle cx="537.2" cy="338.7" r="2.6"/></g><g fill="#0a0a0a"><circle cx="566" cy="330.5" r="2.6"/><circle cx="569.7" cy="332" r="2.6"/><circle cx="566" cy="336.7" r="2.6"/><circle cx="573" cy="337.2" r="2.6"/><circle cx="569.7" cy="338.3" r="2.6"/><circle cx="576.7" cy="339.7" r="2.6"/><circle cx="562.5" cy="341.3" r="2.6"/><circle cx="573" cy="343.3" r="2.6"/><circle cx="569.3" cy="344.2" r="2.6"/><circle cx="569.7" cy="352.2" r="2.6"/></g></g>
<g><path d="M663.7 241.1V367.6H790" fill="none" stroke="#4a4a4a" stroke-width="1.1"/><path d="M658.4 241.6H663.7M658.4 283.6H663.7M658.4 325.6H663.7M658.4 367.6H663.7M683 367.6V372.2M712.2 367.6V372.2M741.2 367.6V372.2M770.3 367.6V372.2" fill="none" stroke="#4a4a4a" stroke-width="1"/><text transform="translate(656.3 245.1) rotate(0.03) scale(1 0.97)" font-size="9.35" text-anchor="end" fill="#111">1.5</text><text transform="translate(656.3 287.1) rotate(0.03) scale(1 0.97)" font-size="9.35" text-anchor="end" fill="#111">1.0</text><text transform="translate(656.3 329.1) rotate(0.03) scale(1 0.97)" font-size="9.35" text-anchor="end" fill="#111">0.5</text><text transform="translate(656.3 371.1) rotate(0.03) scale(1 0.97)" font-size="9.35" text-anchor="end" fill="#111">0.0</text><text transform="translate(632.2 305.9) rotate(-90) scale(1.02 1.04)" font-size="14.3" text-anchor="middle" fill="#111">IL-6 transcription</text><text transform="translate(663.7 234.35) rotate(0.03) scale(1 1.01)" font-size="14.4" font-weight="bold" fill="#111">H</text><text transform="translate(685.4 380.7) rotate(-45) scale(1 1.04)" font-size="9.7" text-anchor="end" fill="#111">PBS+WT</text><text transform="translate(714.6 381.4) rotate(-45) scale(1 1.04)" font-size="9.7" text-anchor="end" fill="#111">PBS+PKM2<tspan font-size="7.6" dy="-2.9">Cko</tspan></text><text transform="translate(743.6 380.7) rotate(-45) scale(1 1.04)" font-size="9.7" text-anchor="end" fill="#111">LPS+WT</text><text transform="translate(772.7 381.4) rotate(-45) scale(1 1.04)" font-size="9.7" text-anchor="end" fill="#111">LPS+PKM2<tspan font-size="7.6" dy="-2.9">Cko</tspan></text><path d="M682.5 248.5V241.8H740V248.5" fill="none" stroke="#484848" stroke-width="0.75"/><path d="M746.2 248.5V241.8H770.5V248.5" fill="none" stroke="#484848" stroke-width="0.75"/><text x="713" y="243.6" font-size="15" text-anchor="middle" fill="#222" style="stroke:#222;stroke-width:0.12px">*</text><text x="758.3" y="243.6" font-size="15" text-anchor="middle" fill="#222" style="stroke:#222;stroke-width:0.12px">*</text><path d="M673.4 282.2H692.6M678.3 278H687.7M678.3 286.3H687.7M683 278V286.3" fill="none" stroke="#444" stroke-width="0.85"/><path d="M702.6 287.5H721.8M707.5 285.2H716.9M707.5 289.7H716.9M712.2 285.2V289.7" fill="none" stroke="#666" stroke-width="0.85"/><path d="M731.6 304.3H750.8M736.5 301.3H745.9M736.5 307.5H745.9M741.2 301.3V307.5" fill="none" stroke="#444" stroke-width="0.85"/><path d="M760.7 324.2H779.9M765.6 322.5H775M765.6 325.9H775M770.3 322.5V325.9" fill="none" stroke="#666" stroke-width="0.85"/><g fill="#0a0a0a"><circle cx="675.8" cy="266" r="2.6"/><circle cx="690.3" cy="268.5" r="2.6"/><circle cx="675.8" cy="272.2" r="2.6"/><circle cx="683" cy="273" r="2.6"/><circle cx="690.3" cy="280.2" r="2.6"/><circle cx="675.8" cy="281.3" r="2.6"/><circle cx="683" cy="283" r="2.6"/><circle cx="683" cy="294.7" r="2.6"/><circle cx="686.7" cy="299.7" r="2.6"/><circle cx="679.5" cy="303" r="2.6"/></g><g fill="#0a0a0a"><circle cx="715.8" cy="276.7" r="2.6"/><circle cx="708.7" cy="278.5" r="2.6"/><circle cx="712.2" cy="280.8" r="2.6"/><circle cx="708.7" cy="285.8" r="2.6"/><circle cx="705" cy="290.2" r="2.6"/><circle cx="719.5" cy="290.5" r="2.6"/><circle cx="708.7" cy="291" r="2.6"/><circle cx="712.2" cy="290" r="2.6"/><circle cx="715.8" cy="293" r="2.6"/><circle cx="712.2" cy="299.2" r="2.6"/></g><g fill="#0a0a0a"><circle cx="734.2" cy="291.7" r="2.6"/><circle cx="741.2" cy="293" r="2.6"/><circle cx="734.2" cy="298" r="2.6"/><circle cx="741.2" cy="300.5" r="2.6"/><circle cx="748.3" cy="299.7" r="2.6"/><circle cx="748.3" cy="305.5" r="2.6"/><circle cx="734.2" cy="308.8" r="2.6"/><circle cx="748.3" cy="310.5" r="2.6"/><circle cx="741.2" cy="312.5" r="2.6"/><circle cx="741.2" cy="319.7" r="2.6"/></g><g fill="#0a0a0a"><circle cx="768.3" cy="317.5" r="2.6"/><circle cx="777.5" cy="318.8" r="2.6"/><circle cx="763" cy="322.5" r="2.6"/><circle cx="766.7" cy="320.8" r="2.6"/><circle cx="773.3" cy="320.8" r="2.6"/><circle cx="766.7" cy="326.3" r="2.6"/><circle cx="775" cy="329.7" r="2.6"/><circle cx="765.8" cy="333.5" r="2.6"/><circle cx="771.7" cy="333" r="2.6"/><circle cx="770" cy="323" r="2.6"/></g></g>
<g><path d="M45.8 461.6V588H171.5" fill="none" stroke="#4a4a4a" stroke-width="1.1"/><path d="M40.5 462.1H45.8M40.5 504.1H45.8M40.5 546H45.8M40.5 588H45.8M65.2 588V592.6M94.2 588V592.6M123.3 588V592.6M152.2 588V592.6" fill="none" stroke="#4a4a4a" stroke-width="1"/><text transform="translate(38.4 465.6) rotate(0.03) scale(1 0.97)" font-size="9.35" text-anchor="end" fill="#111">1.5</text><text transform="translate(38.4 507.6) rotate(0.03) scale(1 0.97)" font-size="9.35" text-anchor="end" fill="#111">1.0</text><text transform="translate(38.4 549.5) rotate(0.03) scale(1 0.97)" font-size="9.35" text-anchor="end" fill="#111">0.5</text><text transform="translate(38.4 591.5) rotate(0.03) scale(1 0.97)" font-size="9.35" text-anchor="end" fill="#111">0.0</text><text transform="translate(15.5 524.6) rotate(-90) scale(1.02 1.04)" font-size="14.3" text-anchor="middle" fill="#111">MCP1 transcription</text><text transform="translate(48.2 458.15) rotate(0.03) scale(1 1.01)" font-size="14.4" font-weight="bold" fill="#111">I</text><text transform="translate(67.6 601.1) rotate(-45) scale(1 1.04)" font-size="9.7" text-anchor="end" fill="#111">PBS+WT</text><text transform="translate(96.6 601.8) rotate(-45) scale(1 1.04)" font-size="9.7" text-anchor="end" fill="#111">PBS+PKM2<tspan font-size="7.6" dy="-2.9">Cko</tspan></text><text transform="translate(125.7 601.1) rotate(-45) scale(1 1.04)" font-size="9.7" text-anchor="end" fill="#111">LPS+WT</text><text transform="translate(154.6 601.8) rotate(-45) scale(1 1.04)" font-size="9.7" text-anchor="end" fill="#111">LPS+PKM2<tspan font-size="7.6" dy="-2.9">Cko</tspan></text><path d="M63.3 468.5V461.8H120.8V468.5" fill="none" stroke="#484848" stroke-width="0.75"/><path d="M127.2 468.5V461.8H151.7V468.5" fill="none" stroke="#484848" stroke-width="0.75"/><text x="94.2" y="463.4" font-size="15" text-anchor="middle" fill="#222" style="stroke:#222;stroke-width:0.12px">*</text><text x="139.3" y="463.4" font-size="15" text-anchor="middle" fill="#222" style="stroke:#222;stroke-width:0.12px">*</text><path d="M55.6 508H74.8M60.5 503.5H69.9M60.5 512.2H69.9M65.2 503.5V512.2" fill="none" stroke="#444" stroke-width="0.85"/><path d="M84.6 505.2H103.8M89.5 500.5H98.9M89.5 509.3H98.9M94.2 500.5V509.3" fill="none" stroke="#444" stroke-width="0.85"/><path d="M113.7 529.2H132.9M118.6 528H128M118.6 530.4H128M123.3 528V530.4" fill="none" stroke="#666" stroke-width="0.85"/><path d="M142.6 553.2H161.8M147.5 552.6H156.9M147.5 553.8H156.9M152.2 552.6V553.8" fill="none" stroke="#666" stroke-width="0.85"/><g fill="#0a0a0a"><circle cx="67.5" cy="482.2" r="2.6"/><circle cx="62.7" cy="487.2" r="2.6"/><circle cx="62.7" cy="502.5" r="2.6"/><circle cx="67.5" cy="507.2" r="2.6"/><circle cx="62.7" cy="510" r="2.6"/><circle cx="58" cy="515.5" r="2.6"/><circle cx="62.7" cy="515.8" r="2.6"/><circle cx="72.5" cy="518" r="2.6"/><circle cx="58" cy="520.8" r="2.6"/><circle cx="67.5" cy="520.5" r="2.6"/></g><g fill="#0a0a0a"><circle cx="94.2" cy="473.5" r="2.6"/><circle cx="90.5" cy="494.7" r="2.6"/><circle cx="98" cy="495.5" r="2.6"/><circle cx="87.2" cy="501.8" r="2.6"/><circle cx="94.2" cy="505.8" r="2.6"/><circle cx="87.2" cy="513" r="2.6"/><circle cx="94.2" cy="514.7" r="2.6"/><circle cx="101.3" cy="513.8" r="2.6"/><circle cx="87.2" cy="519.3" r="2.6"/><circle cx="101.3" cy="519.3" r="2.6"/></g><g fill="#0a0a0a"><circle cx="118.3" cy="520.8" r="2.6"/><circle cx="125.5" cy="524.7" r="2.6"/><circle cx="118.3" cy="526.7" r="2.6"/><circle cx="130.5" cy="528" r="2.6"/><circle cx="116" cy="529.2" r="2.6"/><circle cx="120.8" cy="529.7" r="2.6"/><circle cx="123.3" cy="531.3" r="2.6"/><circle cx="126.3" cy="530.2" r="2.6"/><circle cx="123.3" cy="539.3" r="2.6"/><circle cx="128" cy="529.2" r="2.6"/></g><g fill="#0a0a0a"><circle cx="147.7" cy="550" r="2.6"/><circle cx="145.2" cy="553.3" r="2.6"/><circle cx="149.7" cy="552.5" r="2.6"/><circle cx="152.2" cy="553" r="2.6"/><circle cx="154.3" cy="554.2" r="2.6"/><circle cx="156.8" cy="553.3" r="2.6"/><circle cx="159.7" cy="551.7" r="2.6"/><circle cx="147.7" cy="558.3" r="2.6"/><circle cx="150.5" cy="553.7" r="2.6"/><circle cx="158" cy="552.5" r="2.6"/></g></g>
<g><path d="M259.95 461.6V588H384.5" fill="none" stroke="#4a4a4a" stroke-width="1.1"/><path d="M254.65 462.1H259.95M254.65 504.1H259.95M254.65 546H259.95M254.65 588H259.95M279.3 588V592.6M308.2 588V592.6M337.2 588V592.6M366 588V592.6" fill="none" stroke="#4a4a4a" stroke-width="1"/><text transform="translate(252.55 465.6) rotate(0.03) scale(1 0.97)" font-size="9.35" text-anchor="end" fill="#111">1.5</text><text transform="translate(252.55 507.6) rotate(0.03) scale(1 0.97)" font-size="9.35" text-anchor="end" fill="#111">1.0</text><text transform="translate(252.55 549.5) rotate(0.03) scale(1 0.97)" font-size="9.35" text-anchor="end" fill="#111">0.5</text><text transform="translate(252.55 591.5) rotate(0.03) scale(1 0.97)" font-size="9.35" text-anchor="end" fill="#111">0.0</text><text transform="translate(225.5 523.5) rotate(-90) scale(1.02 1.04)" font-size="14.3" text-anchor="middle" fill="#111">MMP9 transcription</text><text transform="translate(260.7 458.15) rotate(0.03) scale(1 1.01)" font-size="14.4" font-weight="bold" fill="#111">J</text><text transform="translate(281.7 601.1) rotate(-45) scale(1 1.04)" font-size="9.7" text-anchor="end" fill="#111">PBS+WT</text><text transform="translate(310.6 601.8) rotate(-45) scale(1 1.04)" font-size="9.7" text-anchor="end" fill="#111">PBS+PKM2<tspan font-size="7.6" dy="-2.9">Cko</tspan></text><text transform="translate(339.6 601.1) rotate(-45) scale(1 1.04)" font-size="9.7" text-anchor="end" fill="#111">LPS+WT</text><text transform="translate(368.4 601.8) rotate(-45) scale(1 1.04)" font-size="9.7" text-anchor="end" fill="#111">LPS+PKM2<tspan font-size="7.6" dy="-2.9">Cko</tspan></text><path d="M276.8 468.5V461.8H334.8V468.5" fill="none" stroke="#484848" stroke-width="0.75"/><path d="M340.7 468.5V461.8H365.7V468.5" fill="none" stroke="#484848" stroke-width="0.75"/><text x="307.2" y="463.4" font-size="15" text-anchor="middle" fill="#222" style="stroke:#222;stroke-width:0.12px">*</text><text x="352.7" y="463.4" font-size="15" text-anchor="middle" fill="#222" style="stroke:#222;stroke-width:0.12px">*</text><path d="M269.7 506.3H288.9M274.6 503H284M274.6 510H284M279.3 503V510" fill="none" stroke="#555" stroke-width="0.85"/><path d="M298.6 508.8H317.8M303.5 505.5H312.9M303.5 512.2H312.9M308.2 505.5V512.2" fill="none" stroke="#555" stroke-width="0.85"/><path d="M327.6 520.5H346.8M332.5 518H341.9M332.5 523H341.9M337.2 518V523" fill="none" stroke="#555" stroke-width="0.85"/><path d="M356.4 544.5H375.6M361.3 543.6H370.7M361.3 545.4H370.7M366 543.6V545.4" fill="none" stroke="#666" stroke-width="0.85"/><g fill="#0a0a0a"><circle cx="281.3" cy="487.7" r="2.6"/><circle cx="276.5" cy="490.8" r="2.6"/><circle cx="281.3" cy="503" r="2.6"/><circle cx="271.8" cy="506" r="2.6"/><circle cx="281.3" cy="508.3" r="2.6"/><circle cx="276.5" cy="510.5" r="2.6"/><circle cx="271.8" cy="511.7" r="2.6"/><circle cx="286.3" cy="511.3" r="2.6"/><circle cx="281.3" cy="515" r="2.6"/><circle cx="276.5" cy="518.8" r="2.6"/></g><g fill="#0a0a0a"><circle cx="308.2" cy="488.8" r="2.6"/><circle cx="308.2" cy="497.2" r="2.6"/><circle cx="308.2" cy="504.7" r="2.6"/><circle cx="301" cy="507.2" r="2.6"/><circle cx="308.2" cy="510.5" r="2.6"/><circle cx="315.5" cy="511" r="2.6"/><circle cx="301" cy="514.3" r="2.6"/><circle cx="308.2" cy="516.7" r="2.6"/><circle cx="315.5" cy="516.7" r="2.6"/><circle cx="308.2" cy="525.2" r="2.6"/></g><g fill="#0a0a0a"><circle cx="334.7" cy="510" r="2.6"/><circle cx="330.2" cy="514.3" r="2.6"/><circle cx="344.3" cy="515.5" r="2.6"/><circle cx="339.3" cy="517.2" r="2.6"/><circle cx="334.7" cy="518.5" r="2.6"/><circle cx="330.2" cy="521.8" r="2.6"/><circle cx="339.3" cy="522.2" r="2.6"/><circle cx="334.7" cy="525.8" r="2.6"/><circle cx="344.3" cy="526.3" r="2.6"/><circle cx="337.2" cy="532.5" r="2.6"/></g><g fill="#0a0a0a"><circle cx="368.5" cy="537.5" r="2.6"/><circle cx="373.5" cy="541.8" r="2.6"/><circle cx="365.2" cy="543.8" r="2.6"/><circle cx="361.3" cy="543.8" r="2.6"/><circle cx="359" cy="545.8" r="2.6"/><circle cx="371" cy="543.8" r="2.6"/><circle cx="368.5" cy="546.3" r="2.6"/><circle cx="373.5" cy="547.5" r="2.6"/><circle cx="368.5" cy="549.2" r="2.6"/><circle cx="363.5" cy="545" r="2.6"/></g></g>
<g><path d="M463.4 461.6V588H588.2" fill="none" stroke="#4a4a4a" stroke-width="1.1"/><path d="M458.1 462.1H463.4M458.1 504.1H463.4M458.1 546H463.4M458.1 588H463.4M482.5 588V592.6M511.3 588V592.6M540.3 588V592.6M569.3 588V592.6" fill="none" stroke="#4a4a4a" stroke-width="1"/><text transform="translate(456 465.6) rotate(0.03) scale(1 0.97)" font-size="9.35" text-anchor="end" fill="#111">1.5</text><text transform="translate(456 507.6) rotate(0.03) scale(1 0.97)" font-size="9.35" text-anchor="end" fill="#111">1.0</text><text transform="translate(456 549.5) rotate(0.03) scale(1 0.97)" font-size="9.35" text-anchor="end" fill="#111">0.5</text><text transform="translate(456 591.5) rotate(0.03) scale(1 0.97)" font-size="9.35" text-anchor="end" fill="#111">0.0</text><text transform="translate(426.4 528.9) rotate(-90) scale(1.02 1.04)" font-size="14.3" text-anchor="middle" fill="#111">eNOS activity (folds)</text><text transform="translate(463.3 458.15) rotate(0.03) scale(1 1.01)" font-size="14.4" font-weight="bold" fill="#111">K</text><text transform="translate(484.9 601.1) rotate(-45) scale(1 1.04)" font-size="9.7" text-anchor="end" fill="#111">PBS+WT</text><text transform="translate(513.7 601.8) rotate(-45) scale(1 1.04)" font-size="9.7" text-anchor="end" fill="#111">PBS+PKM2<tspan font-size="7.6" dy="-2.9">Cko</tspan></text><text transform="translate(542.7 601.1) rotate(-45) scale(1 1.04)" font-size="9.7" text-anchor="end" fill="#111">LPS+WT</text><text transform="translate(571.7 601.8) rotate(-45) scale(1 1.04)" font-size="9.7" text-anchor="end" fill="#111">LPS+PKM2<tspan font-size="7.6" dy="-2.9">Cko</tspan></text><path d="M479.3 468.5V461.8H536.7V468.5" fill="none" stroke="#484848" stroke-width="0.75"/><path d="M543 468.5V461.8H567.2V468.5" fill="none" stroke="#484848" stroke-width="0.75"/><text x="510" y="463.4" font-size="15" text-anchor="middle" fill="#222" style="stroke:#222;stroke-width:0.12px">*</text><text x="555.2" y="463.4" font-size="15" text-anchor="middle" fill="#222" style="stroke:#222;stroke-width:0.12px">*</text><path d="M472.9 511.3H492.1M477.8 507.2H487.2M477.8 515.5H487.2M482.5 507.2V515.5" fill="none" stroke="#444" stroke-width="0.85"/><path d="M501.7 508.3H520.9M506.6 504.7H516M506.6 512.2H516M511.3 504.7V512.2" fill="none" stroke="#444" stroke-width="0.85"/><path d="M530.7 528H549.9M535.6 526.7H545M535.6 529.3H545M540.3 526.7V529.3" fill="none" stroke="#666" stroke-width="0.85"/><path d="M559.7 555.3H578.9M564.6 554.7H574M564.6 555.9H574M569.3 554.7V555.9" fill="none" stroke="#666" stroke-width="0.85"/><g fill="#0a0a0a"><circle cx="482.5" cy="492.5" r="2.6"/><circle cx="480.2" cy="498" r="2.6"/><circle cx="485" cy="498.8" r="2.6"/><circle cx="480.2" cy="503.5" r="2.6"/><circle cx="482.5" cy="511.3" r="2.6"/><circle cx="475.5" cy="516.7" r="2.6"/><circle cx="485" cy="516.7" r="2.6"/><circle cx="480.2" cy="519.3" r="2.6"/><circle cx="489.7" cy="519.3" r="2.6"/><circle cx="482.5" cy="536" r="2.6"/></g><g fill="#0a0a0a"><circle cx="518.5" cy="495.2" r="2.6"/><circle cx="504.3" cy="496.8" r="2.6"/><circle cx="511.3" cy="498" r="2.6"/><circle cx="504.3" cy="503" r="2.6"/><circle cx="511.3" cy="505.5" r="2.6"/><circle cx="518.5" cy="508" r="2.6"/><circle cx="504.3" cy="511.7" r="2.6"/><circle cx="518.5" cy="514.7" r="2.6"/><circle cx="511.3" cy="516.3" r="2.6"/><circle cx="511.3" cy="532.2" r="2.6"/></g><g fill="#0a0a0a"><circle cx="544.7" cy="520.2" r="2.6"/><circle cx="542.2" cy="522.2" r="2.6"/><circle cx="539.7" cy="524.3" r="2.6"/><circle cx="537.2" cy="529.2" r="2.6"/><circle cx="533.3" cy="530.2" r="2.6"/><circle cx="548" cy="529.7" r="2.6"/><circle cx="545.5" cy="530.8" r="2.6"/><circle cx="541.3" cy="531.8" r="2.6"/><circle cx="535.8" cy="535.5" r="2.6"/><circle cx="539.2" cy="530.2" r="2.6"/></g><g fill="#0a0a0a"><circle cx="562.5" cy="555" r="2.6"/><circle cx="565.5" cy="553.3" r="2.6"/><circle cx="568" cy="554.2" r="2.6"/><circle cx="570.5" cy="554.7" r="2.6"/><circle cx="573.8" cy="554.2" r="2.6"/><circle cx="576.7" cy="553.3" r="2.6"/><circle cx="568" cy="557" r="2.6"/><circle cx="573" cy="557" r="2.6"/><circle cx="565.2" cy="561.3" r="2.6"/><circle cx="575.5" cy="555" r="2.6"/></g></g>
<g><path d="M663.7 461.6V588H790" fill="none" stroke="#4a4a4a" stroke-width="1.1"/><path d="M658.4 462.1H663.7M658.4 504.1H663.7M658.4 546H663.7M658.4 588H663.7M683 588V592.6M712.2 588V592.6M741.2 588V592.6M770.3 588V592.6" fill="none" stroke="#4a4a4a" stroke-width="1"/><text transform="translate(656.3 465.6) rotate(0.03) scale(1 0.97)" font-size="9.35" text-anchor="end" fill="#111">6</text><text transform="translate(656.3 507.6) rotate(0.03) scale(1 0.97)" font-size="9.35" text-anchor="end" fill="#111">4</text><text transform="translate(656.3 549.5) rotate(0.03) scale(1 0.97)" font-size="9.35" text-anchor="end" fill="#111">2</text><text transform="translate(656.3 591.5) rotate(0.03) scale(1 0.97)" font-size="9.35" text-anchor="end" fill="#111">0</text><text transform="translate(631.5 525.5) rotate(-90) scale(1.02 1.04)" font-size="14.3" text-anchor="middle" fill="#111">ET-1 activity (folds)</text><text transform="translate(663.7 458.55) rotate(0.03) scale(1 1.01)" font-size="14.4" font-weight="bold" fill="#111">L</text><text transform="translate(685.4 601.1) rotate(-45) scale(1 1.04)" font-size="9.7" text-anchor="end" fill="#111">PBS+WT</text><text transform="translate(714.6 601.8) rotate(-45) scale(1 1.04)" font-size="9.7" text-anchor="end" fill="#111">PBS+PKM2<tspan font-size="7.6" dy="-2.9">Cko</tspan></text><text transform="translate(743.6 601.1) rotate(-45) scale(1 1.04)" font-size="9.7" text-anchor="end" fill="#111">LPS+WT</text><text transform="translate(772.7 601.8) rotate(-45) scale(1 1.04)" font-size="9.7" text-anchor="end" fill="#111">LPS+PKM2<tspan font-size="7.6" dy="-2.9">Cko</tspan></text><path d="M682.5 471V464.3H740V471" fill="none" stroke="#484848" stroke-width="0.75"/><path d="M746.2 471V464.3H770.5V471" fill="none" stroke="#484848" stroke-width="0.75"/><text x="713" y="466" font-size="15" text-anchor="middle" fill="#222" style="stroke:#222;stroke-width:0.12px">*</text><text x="758.3" y="466" font-size="15" text-anchor="middle" fill="#222" style="stroke:#222;stroke-width:0.12px">*</text><path d="M673.4 565.8H692.6M678.3 565H687.7M678.3 566.6H687.7M683 565V566.6" fill="none" stroke="#888" stroke-width="0.85"/><path d="M702.6 567.3H721.8M707.5 566.5H716.9M707.5 568.1H716.9M712.2 566.5V568.1" fill="none" stroke="#888" stroke-width="0.85"/><path d="M731.6 535H750.8M736.5 533.6H745.9M736.5 536.4H745.9M741.2 533.6V536.4" fill="none" stroke="#555" stroke-width="0.85"/><path d="M760.7 516.3H779.9M765.6 511H775M765.6 521.8H775M770.3 511V521.8" fill="none" stroke="#555" stroke-width="0.85"/><g fill="#0a0a0a"><circle cx="682.2" cy="561.3" r="2.6"/><circle cx="686.7" cy="562" r="2.6"/><circle cx="679.7" cy="564.2" r="2.6"/><circle cx="684.7" cy="564.2" r="2.6"/><circle cx="676.2" cy="566.2" r="2.6"/><circle cx="690.3" cy="565.8" r="2.6"/><circle cx="682.2" cy="567.5" r="2.6"/><circle cx="687.5" cy="568" r="2.6"/><circle cx="684.7" cy="568.7" r="2.6"/><circle cx="678.7" cy="571.7" r="2.6"/></g><g fill="#0a0a0a"><circle cx="712.2" cy="562.2" r="2.6"/><circle cx="708.7" cy="565.8" r="2.6"/><circle cx="705" cy="567.2" r="2.6"/><circle cx="715.8" cy="567.2" r="2.6"/><circle cx="719.5" cy="568.3" r="2.6"/><circle cx="712.2" cy="567.5" r="2.6"/><circle cx="710" cy="568.3" r="2.6"/><circle cx="714.2" cy="568.3" r="2.6"/><circle cx="711.2" cy="573.8" r="2.6"/><circle cx="707.5" cy="567.5" r="2.6"/></g><g fill="#0a0a0a"><circle cx="741.2" cy="526" r="2.6"/><circle cx="737.5" cy="530.8" r="2.6"/><circle cx="745" cy="531.8" r="2.6"/><circle cx="741.2" cy="533.8" r="2.6"/><circle cx="748.3" cy="534.7" r="2.6"/><circle cx="737.5" cy="535.5" r="2.6"/><circle cx="734.2" cy="539.3" r="2.6"/><circle cx="741.2" cy="539.3" r="2.6"/><circle cx="745" cy="538.5" r="2.6"/><circle cx="748.3" cy="541.7" r="2.6"/></g><g fill="#0a0a0a"><circle cx="770" cy="481.8" r="2.6"/><circle cx="770" cy="503" r="2.6"/><circle cx="768" cy="510" r="2.6"/><circle cx="763" cy="514.2" r="2.6"/><circle cx="773.8" cy="511.8" r="2.6"/><circle cx="777.5" cy="511.8" r="2.6"/><circle cx="768" cy="529.2" r="2.6"/><circle cx="772.8" cy="529.2" r="2.6"/><circle cx="770" cy="534.7" r="2.6"/><circle cx="770" cy="540.5" r="2.6"/></g></g>
</svg>
</body></html>
